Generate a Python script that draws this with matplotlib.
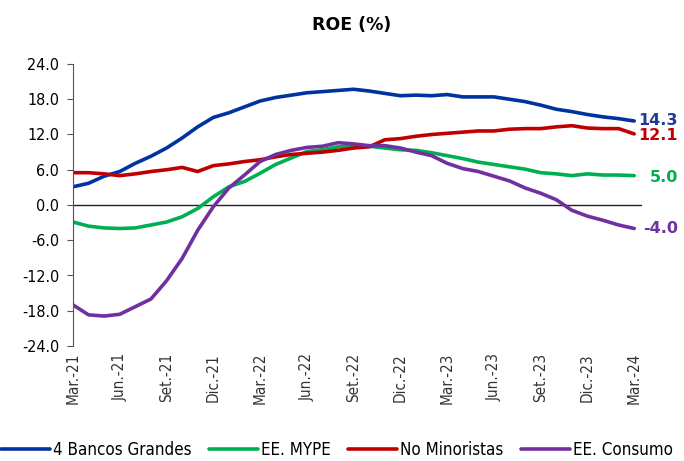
import matplotlib

matplotlib.use("Agg")
import matplotlib.pyplot as plt
import matplotlib.transforms as mtransforms
import numpy as np

# monthly, Mar-21 .. Mar-24
months = [
    "Mar.-21", "Abr.-21", "May.-21", "Jun.-21", "Jul.-21", "Ago.-21", "Set.-21", "Oct.-21", "Nov.-21",
    "Dic.-21", "Ene.-22", "Feb.-22", "Mar.-22", "Abr.-22", "May.-22", "Jun.-22", "Jul.-22", "Ago.-22",
    "Set.-22", "Oct.-22", "Nov.-22", "Dic.-22", "Ene.-23", "Feb.-23", "Mar.-23", "Abr.-23", "May.-23",
    "Jun.-23", "Jul.-23", "Ago.-23", "Set.-23", "Oct.-23", "Nov.-23", "Dic.-23", "Ene.-24", "Feb.-24",
    "Mar.-24",
]

bancos_grandes = [
    3.1, 3.7, 4.9, 5.7, 7.1, 8.3, 9.7, 11.4, 13.3, 14.9, 15.7, 16.7, 17.7, 18.3, 18.7, 19.1, 19.3, 19.5,
    19.7, 19.4, 19.0, 18.6, 18.7, 18.6, 18.8, 18.4, 18.4, 18.4, 18.0, 17.6, 17.0, 16.3, 15.9, 15.4, 15.0,
    14.7, 14.3,
]
ee_mype = [
    -2.9, -3.6, -3.9, -4.0, -3.9, -3.4, -2.9, -2.0, -0.6, 1.4, 3.1, 4.0, 5.4, 6.9, 8.0, 9.1, 9.4, 9.9,
    10.0, 10.0, 9.7, 9.4, 9.3, 8.9, 8.4, 7.9, 7.3, 6.9, 6.5, 6.1, 5.5, 5.3, 5.0, 5.3, 5.1, 5.1, 5.0,
]
no_minoristas = [
    5.5, 5.5, 5.3, 5.0, 5.3, 5.7, 6.0, 6.4, 5.7, 6.7, 7.0, 7.4, 7.7, 8.2, 8.6, 8.8, 9.0, 9.3, 9.7, 9.9,
    11.1, 11.3, 11.7, 12.0, 12.2, 12.4, 12.6, 12.6, 12.9, 13.0, 13.0, 13.3, 13.5, 13.1, 13.0, 13.0, 12.1,
]
ee_consumo = [
    -17.0, -18.7, -18.9, -18.6, -17.3, -16.0, -12.9, -9.1, -4.3, -0.3, 2.9, 5.1, 7.4, 8.6, 9.3, 9.8, 10.0,
    10.6, 10.4, 10.1, 10.1, 9.7, 9.0, 8.4, 7.1, 6.2, 5.7, 4.9, 4.1, 2.9, 2.0, 0.9, -0.9, -1.9, -2.6, -3.4,
    -4.0,
]

series = [
    ("4 Bancos Grandes", bancos_grandes, "#0033A0", "#1F3C99", 0.0),
    ("EE. MYPE", ee_mype, "#00B050", "#00B050", -0.3),
    ("No Minoristas", no_minoristas, "#C00000", "#C00000", -0.2),
    ("EE. Consumo", ee_consumo, "#7030A0", "#7030A0", 0.0),
]

fig = plt.figure(figsize=(6.84, 4.61), dpi=100)
ax = fig.add_axes([73 / 684, 1 - 346 / 461, (642 - 73) / 684, (346 - 64) / 461])
trans = mtransforms.blended_transform_factory(fig.transFigure, ax.transData)

x = np.arange(len(months))
handles = []
for name, vals, color, txt_color, dy in series:
    (h,) = ax.plot(x, vals, color=color, lw=2.6, solid_capstyle="round", label=name)
    handles.append(h)
    ax.text(678 / 684, vals[-1] + dy, f"{vals[-1]:.1f}", color=txt_color, transform=trans,
            fontsize=11.5, fontweight="bold", va="center", ha="right")

ax.axhline(0, color="#222222", lw=1.0, zorder=1)
ax.set_xlim(0, 36.5)
ax.set_ylim(-24, 24)
yt = np.arange(-24, 24.1, 6)
ax.set_yticks(yt)
ax.set_yticklabels([f"{v:.1f}" for v in yt], fontsize=11.5, fontstretch="condensed")
ax.set_xticks(x[::3])
ax.set_xticklabels(months[::3], rotation=90, fontsize=11, fontstretch="condensed", color="#333333")
ax.tick_params(axis="x", length=0, pad=5)
ax.tick_params(axis="y", length=4, direction="out", color="#555555", pad=6)
for s in ("top", "right", "bottom"):
    ax.spines[s].set_visible(False)
ax.spines["left"].set_color("#555555")

fig.text(352 / 684, 1 - 25 / 461, "ROE (%)", ha="center", va="center", fontsize=12.5,
         fontweight="bold")

fig.legend(handles=handles, loc="center", bbox_to_anchor=(337 / 684, 1 - 450 / 461), ncol=4,
           frameon=False, prop={"size": 12.2, "stretch": "condensed"}, handlelength=2.9,
           columnspacing=1.0, handletextpad=0.2, borderaxespad=0, borderpad=0)

fig.savefig("out.png", dpi=100)
